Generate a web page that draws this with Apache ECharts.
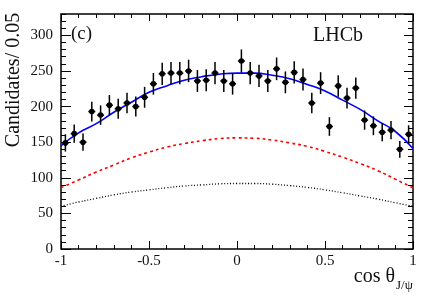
<!DOCTYPE html>
<html>
<head>
<meta charset="utf-8">
<script src="https://cdn.jsdelivr.net/npm/echarts@6/dist/echarts.min.js"></script>
<style>html,body{margin:0;padding:0;background:#fff}#c{width:436px;height:296px}</style>
</head>
<body>
<div id="c"></div>
<script>
// Bin centres of cos(theta_J/psi), bin width 0.05
const binCenters = [-0.975,-0.925,-0.875,-0.825,-0.775,-0.725,-0.675,-0.625,-0.575,-0.525,
  -0.475,-0.425,-0.375,-0.325,-0.275,-0.225,-0.175,-0.125,-0.075,-0.025,
  0.025,0.075,0.125,0.175,0.225,0.275,0.325,0.375,0.425,0.475,
  0.525,0.575,0.625,0.675,0.725,0.775,0.825,0.875,0.925,0.975];
const candidates = [149,162,150,193,188,202,197,205,200,213,
  232,246,247,247,250,236,237,247,236,232,
  264,247,243,236,253,234,248,238,205,233,
  172,229,212,226,181,173,164,167,140,161];
const errors = [12.2,12.7,12.2,13.9,13.7,14.2,14.0,14.3,14.1,14.6,
  15.2,15.7,15.7,15.7,15.8,15.4,15.4,15.7,15.4,15.2,
  16.2,15.7,15.6,15.4,15.9,15.3,15.7,15.4,14.3,15.3,
  13.1,15.1,14.6,15.0,13.5,13.2,12.8,12.9,11.8,12.7];
// Fit curves sampled
const curveX = [-1,-0.9,-0.8,-0.7,-0.6,-0.5,-0.4,-0.3,-0.2,-0.1,0,0.1,0.2,0.3,0.4,0.5,0.6,0.7,0.8,0.9,1];
const fitTotal = [145,163,176,192,206,220,229,237,242,245.5,247,247,244,239,231,222,209,196,180,165,141];
const fitRed   = [86,97,108,118,128,136,143,148,152,155,156,155.5,153,149,144,137,129,120,110,98,86];
const fitBlack = [60,66,71,76,80,83,86,88.5,90,91.5,92,92,91,89,86.5,83,79,74.5,70,65,60];
const xTicks = [-1,-0.5,0,0.5,1];
const yTicks = [0,50,100,150,200,250,300];

const FONT = '"Liberation Serif", "DejaVu Serif", serif';
const chart = echarts.init(document.getElementById('c'), null, {renderer:'canvas'});

const pts = binCenters.map((x,i)=>[x,candidates[i],errors[i]]);
const pair = (ys)=>curveX.map((x,i)=>[x,ys[i]]);

const tickStyle = {lineStyle:{color:'#000',width:1}};
const baseAxis = {type:'value', splitLine:{show:false}, axisLine:{show:false,onZero:false}};

const option = {
  animation:false,
  grid:{left:61,right:23,top:14,bottom:47,show:true,borderColor:'#000',borderWidth:1.5,backgroundColor:'transparent'},
  xAxis:[
    Object.assign({},baseAxis,{min:-1,max:1,interval:0.5,position:'bottom',
      axisTick:Object.assign({inside:true,length:8},tickStyle),
      minorTick:Object.assign({show:true,splitNumber:5,length:4},tickStyle),
      axisLabel:{fontFamily:FONT,fontSize:15,color:'#111',margin:5,
        formatter:(v)=>xTicks.includes(+v.toFixed(2))?String(+v.toFixed(2)):''}}),
    Object.assign({},baseAxis,{min:-1,max:1,interval:0.5,position:'top',
      axisTick:Object.assign({inside:true,length:7},tickStyle),
      minorTick:Object.assign({show:true,splitNumber:5,length:4},tickStyle),
      axisLabel:{show:false}})
  ],
  yAxis:[
    Object.assign({},baseAxis,{min:0,max:330,interval:50,position:'left',
      axisTick:Object.assign({inside:true,length:10},tickStyle),
      axisLabel:{fontFamily:FONT,fontSize:15,color:'#111',margin:8,showMaxLabel:false,
        formatter:(v)=>yTicks.includes(v)?String(v):''}}),
    Object.assign({},baseAxis,{min:0,max:330,interval:10,position:'left',
      axisTick:Object.assign({inside:true,length:5},tickStyle),axisLabel:{show:false}}),
    Object.assign({},baseAxis,{min:0,max:330,interval:50,position:'right',
      axisTick:Object.assign({inside:true,length:9},tickStyle),axisLabel:{show:false}}),
    Object.assign({},baseAxis,{min:0,max:330,interval:10,position:'right',
      axisTick:Object.assign({inside:true,length:5},tickStyle),axisLabel:{show:false}})
  ],
  series:[
    {type:'line',data:pair(fitBlack),smooth:true,showSymbol:false,
      lineStyle:{color:'#000',width:1.3,type:[1,2]}},
    {type:'line',data:pair(fitRed),smooth:true,showSymbol:false,
      lineStyle:{color:'#ff0000',width:1.6,type:[3,3]}},
    {type:'line',data:pair(fitTotal),smooth:true,showSymbol:false,
      lineStyle:{color:'#0000ff',width:1.6}},
    {type:'custom',data:pts,clip:true,z:5,
      renderItem:function(params,api){
        const x=api.value(0),y=api.value(1),e=api.value(2);
        const c=api.coord([x,y]);
        const t=api.coord([x,y+e]);
        const b=api.coord([x,y-e]);
        return {type:'group',children:[
          {type:'line',shape:{x1:c[0],y1:t[1],x2:c[0],y2:b[1]},style:{stroke:'#000',lineWidth:1.5}},
          {type:'line',shape:{x1:c[0]-3.5,y1:c[1],x2:c[0]+3.5,y2:c[1]},style:{stroke:'#000',lineWidth:1.5}},
          {type:'circle',shape:{cx:c[0],cy:c[1],r:2.8},style:{fill:'#000'}}
        ]};
      }}
  ],
  graphic:[
    {type:'text',x:14,y:80,rotation:Math.PI/2,
      style:{text:'Candidates/ 0.05',fontFamily:FONT,fontSize:20,fill:'#111',align:'center',verticalAlign:'middle'}},
    {type:'text',x:395,y:277,
      style:{text:'cos θ',fontFamily:FONT,fontSize:20,fill:'#111',align:'right',verticalAlign:'middle'}},
    {type:'text',x:396,y:286,
      style:{text:'J/ψ',fontFamily:FONT,fontSize:13,fill:'#111',align:'left',verticalAlign:'middle'}},
    {type:'text',x:71,y:34,
      style:{text:'(c)',fontFamily:FONT,fontSize:19,fill:'#111',align:'left',verticalAlign:'middle'}},
    {type:'text',x:313,y:36,
      style:{text:'LHCb',fontFamily:FONT,fontSize:20,fill:'#111',align:'left',verticalAlign:'middle'}}
  ]
};
chart.setOption(option);
</script>
</body>
</html>
